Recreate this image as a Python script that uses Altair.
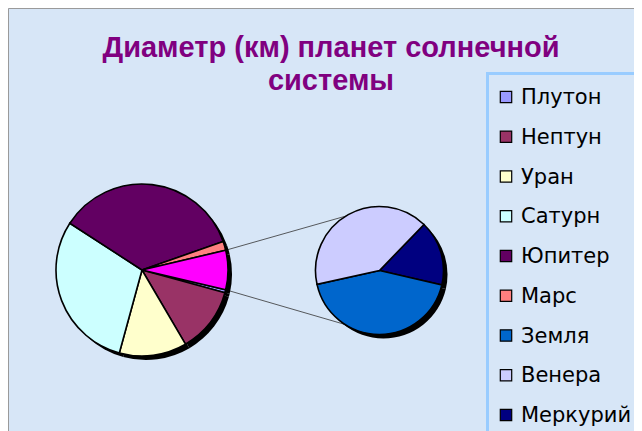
import math
import altair as alt
import pandas as pd

# ---- data (diameters, km) ----
main_names = ["Плутон", "Нептун", "Уран", "Сатурн", "Юпитер", "Марс"]
main_values = [2370, 49528, 51118, 120536, 142984, 6792]

sub_names = ["Меркурий", "Земля", "Венера"]
sub_values = [4879, 12756, 12104]

other_name = "Другие"

legend_names = ["Плутон", "Нептун", "Уран", "Сатурн", "Юпитер", "Марс",
                "Земля", "Венера", "Меркурий"]
palette_names = legend_names + [other_name]
palette_colors = ["#9999ff", "#993366", "#ffffcc", "#ccffff", "#620062", "#ff8080",
                  "#0066cc", "#ccccff", "#000080", "#ff00ff"]

title_text = "Диаметр (км) планет солнечной\nсистемы"

# ---- derived tables ----
other_value = sum(sub_values)
pie_names = main_names + [other_name]
pie_values = main_values + [other_value]
main_df = pd.DataFrame({"name": pie_names, "value": pie_values,
                        "idx": list(range(len(pie_names)))})
sub_df = pd.DataFrame({"name": sub_names, "value": sub_values,
                       "idx": list(range(len(sub_names)))})
legend_df = pd.DataFrame({"name": legend_names})

# ---- layout (chart pixels) ----
CX1, CY1, R1 = 134, 262, 86
CX2, CY2, R2 = 371.5, 262.5, 64
total = sum(pie_values)
other_rad = other_value / total * 2 * math.pi
start1 = math.pi / 2 + other_rad / 2
start2 = math.radians(44)

a_up = math.pi / 2 - other_rad / 2
a_dn = math.pi / 2 + other_rad / 2
lines_df = pd.DataFrame({
    "x": [CX1 + R1 * math.sin(a_up), CX1 + R1 * math.sin(a_dn)],
    "y": [CY1 - R1 * math.cos(a_up), CY1 - R1 * math.cos(a_dn)],
    "x2": [CX2, CX2],
    "y2": [CY2 - R2, CY2 + R2],
})

color = alt.Color("name:N", scale=alt.Scale(domain=palette_names, range=palette_colors),
                  legend=None)


def pie(df, cx, cy, r, start, fill=True, dx=0, dy=0):
    enc = dict(
        theta=alt.Theta("value:Q", stack=True,
                        scale=alt.Scale(range=[start, start + 2 * math.pi])),
        order=alt.Order("idx:Q"),
        x=alt.value(cx + dx), y=alt.value(cy + dy),
    )
    if fill:
        return alt.Chart(df).mark_arc(radius=r, stroke="black", strokeWidth=1.6).encode(
            color=color, **enc)
    return alt.Chart(df).mark_arc(radius=r, color="black").encode(**enc)


shadow1 = pie(main_df, CX1, CY1, R1, start1, fill=False, dx=4, dy=4)
shadow2 = pie(sub_df, CX2, CY2, R2, start2, fill=False, dx=4, dy=4)
pie1 = pie(main_df, CX1, CY1, R1, start1)
pie2 = pie(sub_df, CX2, CY2, R2, start2)

connectors = alt.Chart(lines_df).mark_rule(color="#333333", strokeWidth=0.8).encode(
    x=alt.X("x:Q", scale=None), y=alt.Y("y:Q", scale=None),
    x2="x2:Q", y2="y2:Q")

title = alt.Chart(pd.DataFrame({"t": [title_text]})).mark_text(
    font="Liberation Sans", fontSize=29, fontWeight="bold", color="#800080",
    align="center", baseline="alphabetic", lineBreak="\n", lineHeight=33,
).encode(x=alt.value(323), y=alt.value(49), text="t:N")

legend_box = alt.Chart(pd.DataFrame({"k": [0]})).mark_rect(
    fill=None, stroke="#99ccff", strokeWidth=3).encode(
    x=alt.value(479.5), y=alt.value(65.5), x2=alt.value(700), y2=alt.value(500))

leg_y = alt.Y("name:N", sort=legend_names,
              scale=alt.Scale(type="point", domain=legend_names, range=[89, 407], padding=0),
              axis=None)
legend_sq = alt.Chart(legend_df).mark_square(
    size=130, opacity=1, filled=True, stroke="black", strokeWidth=1.2).encode(
    x=alt.value(498), y=leg_y, color=color)
legend_tx = alt.Chart(legend_df).mark_text(
    font="DejaVu Sans", fontSize=21, align="left", baseline="middle", color="black",
    dy=1).encode(x=alt.value(513), y=leg_y, text="name:N")

chart = alt.layer(
    connectors, shadow1, shadow2, pie1, pie2, title, legend_box, legend_sq, legend_tx
).resolve_scale(theta="independent").properties(
    width=626, height=423, padding=0, background="#d7e6f7",
    autosize=alt.AutoSizeParams(type="none"),
).configure_view(
    fill="#d7e6f7", stroke="#9a9a9a", strokeWidth=1
)

chart.save("out.html", embed_options={"renderer": "svg", "actions": False})
